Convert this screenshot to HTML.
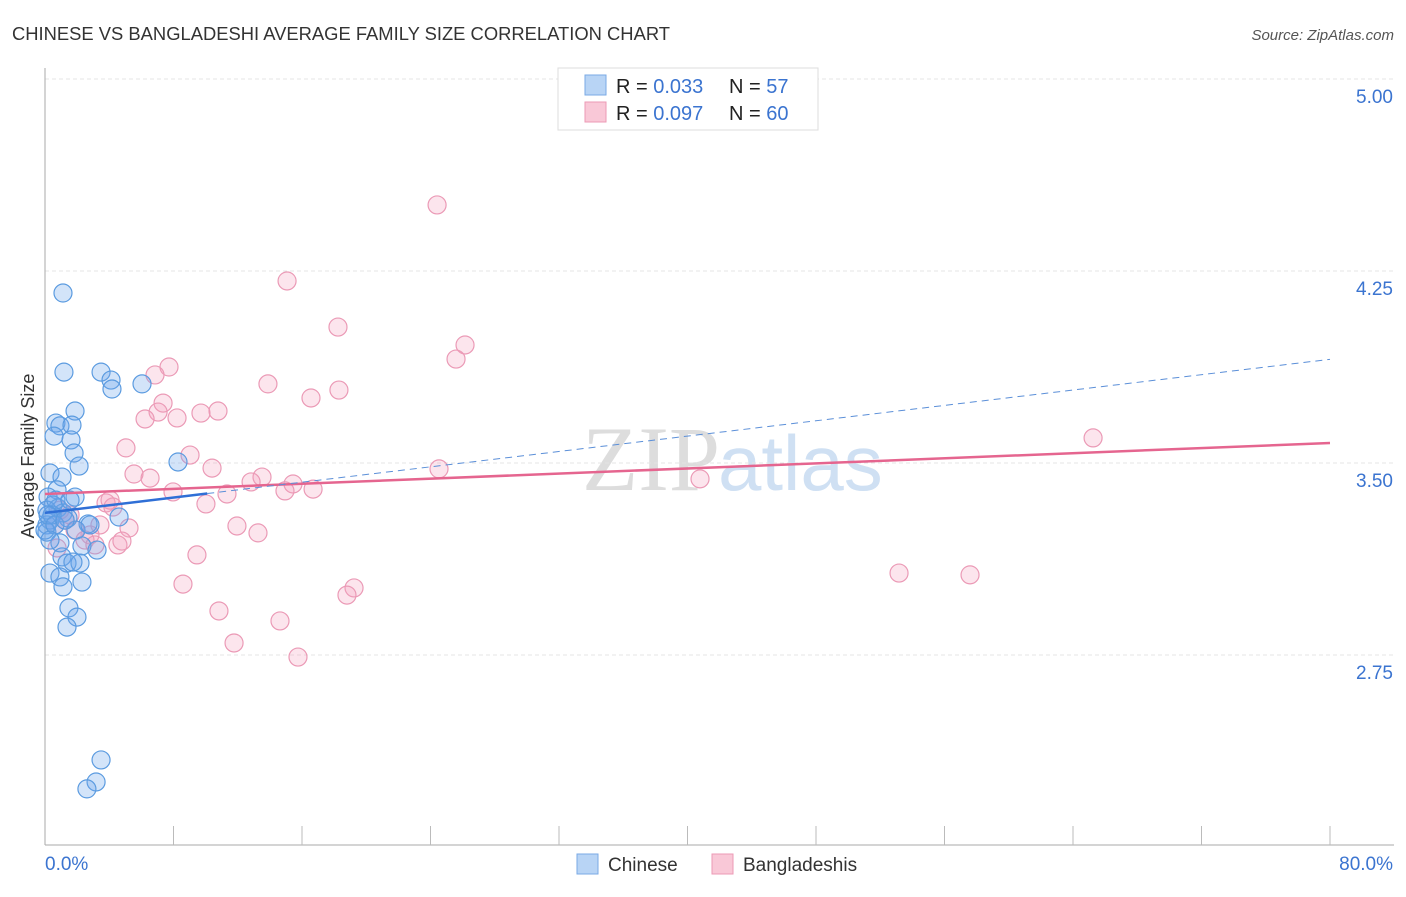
<!DOCTYPE html>
<html><head><meta charset="utf-8"><style>
body{margin:0;background:#fff;font-family:"Liberation Sans",sans-serif}
#c{position:relative;width:1406px;height:892px}
</style></head><body>
<div id="c">
<svg id="s" width="1406" height="892" xmlns="http://www.w3.org/2000/svg">
<text x="12" y="40" font-size="18" fill="#333" textLength="658" lengthAdjust="spacingAndGlyphs">CHINESE VS BANGLADESHI AVERAGE FAMILY SIZE CORRELATION CHART</text>
<text x="1394" y="40" font-size="15" fill="#555" font-style="italic" text-anchor="end">Source: ZipAtlas.com</text>
<text x="720" y="490" font-size="92" fill="#ddd" text-anchor="end" font-family="Liberation Serif,serif">ZIP</text>
<text x="718" y="490" font-size="78" fill="#cfe0f3">atlas</text>
<text x="34" y="456" font-size="18" fill="#333" text-anchor="middle" transform="rotate(-90 34 456)">Average Family Size</text>
<g id="grid"></g><g id="axes"></g><g id="pts"></g><g id="trend"></g>
<g>
<rect x="558" y="68" width="260" height="62" fill="#fff" stroke="#ddd"/>
<rect x="585" y="75" width="21" height="20" fill="#b8d4f5" stroke="#7aaae5"/>
<rect x="585" y="102" width="21" height="20" fill="#f9c8d7" stroke="#ec9ab5"/>
<text x="616" y="93" font-size="20" fill="#222">R = <tspan fill="#3b74d0">0.033</tspan></text>
<text x="729" y="93" font-size="20" fill="#222">N = <tspan fill="#3b74d0"> 57</tspan></text>
<text x="616" y="120" font-size="20" fill="#222">R = <tspan fill="#3b74d0">0.097</tspan></text>
<text x="729" y="120" font-size="20" fill="#222">N = <tspan fill="#3b74d0">60</tspan></text>
</g>
<g>
<rect x="577" y="854" width="21" height="20" fill="#b8d4f5" stroke="#7aaae5"/>
<text x="608" y="871" font-size="19" fill="#333">Chinese</text>
<rect x="712" y="854" width="21" height="20" fill="#f9c8d7" stroke="#ec9ab5"/>
<text x="743" y="871" font-size="19" fill="#333">Bangladeshis</text>
</g>
</svg></div>
<script>
const yTicks=[5.00,4.25,3.50,2.75];
const xTickLabels=["0.0%","80.0%"];
const chineseX=[1.12,1.18,3.49,4.11,4.17,6.04,1.87,0.68,0.93,1.68,0.56,1.62,1.81,2.12,8.28,0.31,1.06,0.75,1.87,0.19,0.50,0.81,1.12,1.43,0.31,0.12,0.12,2.68,4.61,1.93,0.93,2.30,3.24,1.06,1.37,2.18,1.74,0.31,0.93,2.30,1.12,1.49,1.99,1.37,3.49,3.18,2.61,0.12,0.44,0.68,0.0,0.19,0.62,1.25,0.31,1.56,2.80];
const chineseY=[4.164,3.855,3.855,3.824,3.789,3.809,3.703,3.656,3.645,3.648,3.605,3.590,3.539,3.488,3.504,3.461,3.445,3.395,3.367,3.367,3.336,3.324,3.305,3.285,3.277,3.258,3.230,3.262,3.289,3.238,3.188,3.176,3.160,3.133,3.109,3.109,3.113,3.070,3.055,3.035,3.016,2.934,2.898,2.859,2.340,2.254,2.227,3.316,3.297,3.355,3.238,3.297,3.258,3.277,3.199,3.355,3.258];
const bangX=[24.41,15.07,18.24,26.15,25.59,7.72,6.85,13.88,18.30,16.56,7.35,7.04,6.23,8.22,10.77,9.71,5.04,9.03,10.40,5.54,6.54,13.51,12.83,15.44,7.97,11.33,14.94,16.69,24.53,40.78,65.25,3.80,4.23,10.02,1.25,1.56,3.42,5.23,0.62,11.95,13.26,2.80,4.54,4.79,0.75,9.46,8.59,19.24,18.80,10.83,14.63,11.77,15.75,53.17,57.59,0.93,1.87,2.49,3.11,4.05];
const bangY=[4.508,4.211,4.031,3.961,3.906,3.875,3.844,3.809,3.785,3.754,3.734,3.699,3.672,3.676,3.703,3.695,3.559,3.531,3.480,3.457,3.441,3.445,3.426,3.418,3.387,3.379,3.391,3.398,3.477,3.438,3.598,3.344,3.328,3.340,3.277,3.297,3.258,3.246,3.258,3.254,3.227,3.219,3.180,3.195,3.168,3.141,3.027,3.012,2.984,2.922,2.883,2.797,2.742,3.070,3.063,3.316,3.238,3.199,3.180,3.355];
const chineseTrend=[3.305,0.0075,10.1];
const bangTrend=[3.379,0.00249];
const NS="http://www.w3.org/2000/svg";
const X0=45,X1=1330,Y5=79,PPU=256;
function xs(v){return X0+v/80*(X1-X0);}
function ys(v){return Y5+(5-v)*PPU;}
function mk(t,a,p){const e=document.createElementNS(NS,t);for(const k in a)e.setAttribute(k,a[k]);p.appendChild(e);return e;}
const grid=document.getElementById('grid'),axes=document.getElementById('axes'),pts=document.getElementById('pts'),tr=document.getElementById('trend');
yTicks.forEach((t,i)=>{
 const l=mk('line',{x1:X0,x2:1394,y1:ys(t),y2:ys(t),stroke:'#e4e4e4','stroke-dasharray':'4,3'},grid);
 
 
 const tx=mk('text',{x:1393,y:ys(t)+24,'font-size':19,fill:'#3b74d0','text-anchor':'end'},axes);
 tx.textContent=t.toFixed(2);
 
 
});
const ya=mk('line',{x1:X0,x2:X0,y1:68,y2:845,stroke:'#aaa'},axes);


const xa=mk('line',{x1:X0,x2:1394,y1:845,y2:845,stroke:'#aaa'},axes);


for(let i=1;i<=10;i++){
 const t=mk('line',{x1:xs(i*8),x2:xs(i*8),y1:826,y2:845,stroke:'#bbb'},axes);
 
 
}
[[0,'start'],[80,'end']].forEach((d,i)=>{
 const tx=mk('text',{x:i?1393:45,y:870,'font-size':19,fill:'#3b74d0','text-anchor':d[1]},axes);
 tx.textContent=xTickLabels[i];
 
 
});
bangX.forEach((v,i)=>{
 const c=mk('circle',{cx:xs(v),cy:ys(bangY[i]),r:9,fill:'rgba(244,160,190,0.28)',stroke:'#eb9ab6','stroke-width':1.2},pts);
 
 
});
chineseX.forEach((v,i)=>{
 const c=mk('circle',{cx:xs(v),cy:ys(chineseY[i]),r:9,fill:'rgba(110,165,235,0.3)',stroke:'#5b9be0','stroke-width':1.2},pts);
 
 
});
const bl=mk('line',{x1:xs(0),y1:ys(bangTrend[0]),x2:xs(80),y2:ys(bangTrend[0]+80*bangTrend[1]),stroke:'#e5658f','stroke-width':2.5},tr);


const cd=mk('line',{x1:xs(chineseTrend[2]),y1:ys(chineseTrend[0]+chineseTrend[1]*chineseTrend[2]),x2:xs(80),y2:ys(chineseTrend[0]+80*chineseTrend[1]),stroke:'#5b8fd8','stroke-width':1,'stroke-dasharray':'7,5'},tr);


const cl=mk('line',{x1:xs(0),y1:ys(chineseTrend[0]),x2:xs(chineseTrend[2]),y2:ys(chineseTrend[0]+chineseTrend[1]*chineseTrend[2]),stroke:'#2f6fd6','stroke-width':2.5},tr);


</script>
</body></html>
